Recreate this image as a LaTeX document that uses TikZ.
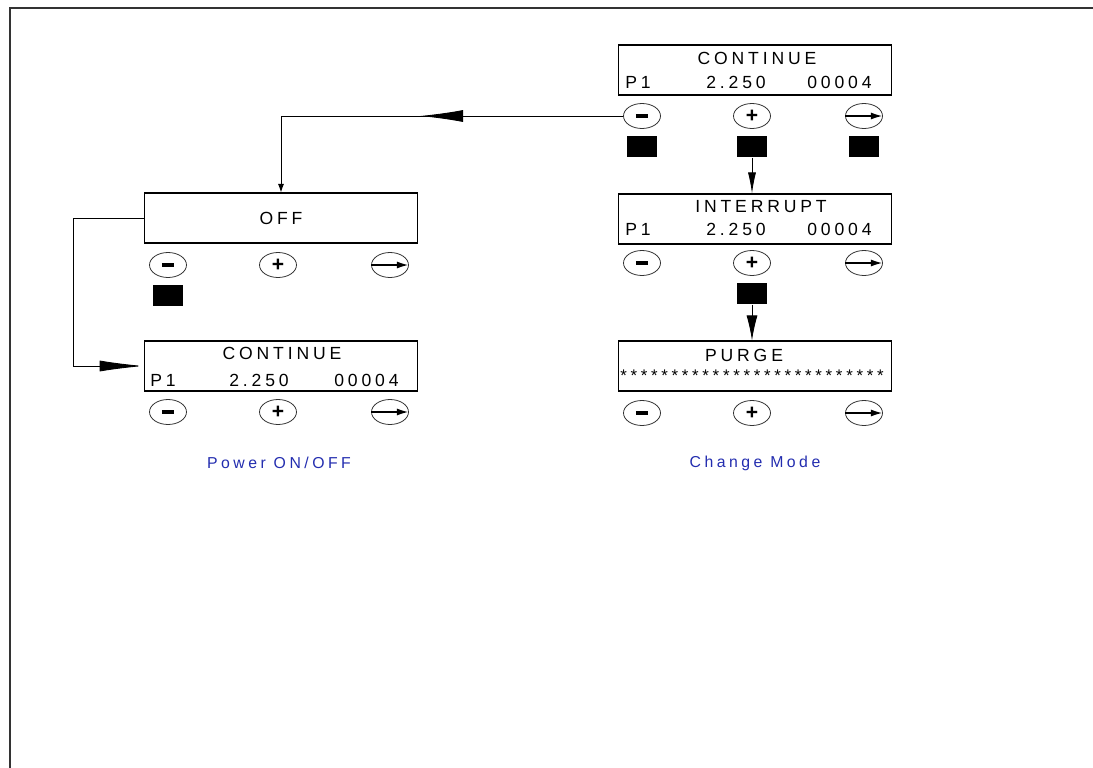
\documentclass[tikz,border=0pt]{standalone}
\usepackage{fontspec}
\setmainfont{Liberation Sans}
\newfontfamily\lcdfont[LetterSpace=22]{Liberation Sans}
\usetikzlibrary{shapes.geometric,arrows.meta,positioning,decorations.markings}
\definecolor{labelblue}{RGB}{35,45,175}

\begin{document}
\begin{tikzpicture}[
    x=0.02cm, y=-0.02cm,
    panel/.style={rectangle, draw, line width=0.9pt, minimum width=5.46cm, minimum height=0.99cm, inner sep=0},
    txt/.style={font=\lcdfont\fontsize{10}{12}\selectfont, inner sep=0},
    stars/.style={font=\lcdfont\fontsize{9.6}{10}\selectfont, inner sep=0},
    key/.style={ellipse, draw=black!80, line width=0.45pt, minimum width=0.74cm, minimum height=0.5cm, inner sep=0},
    pressed/.style={rectangle, fill=black, minimum width=0.6cm, minimum height=0.43cm, inner sep=0},
    caption/.style={font=\lcdfont\fontsize{9}{11}\selectfont, text=labelblue},
    line/.style={line width=0.5pt},
    longarrow/.style={line, -{Latex[length=0.88cm, width=0.22cm]}},
    arrow/.style={line, -{Latex[length=0.5cm, width=0.22cm]}}
]
    \useasboundingbox (0,0) rectangle (1093,768);
    \draw[line width=1.1pt, black!80] (10,768) -- (10,8) -- (1093,8);

    % display panels
    \node[panel] (cont) at (755,70) {};
    \node[panel] (intr) at (755,219) {};
    \node[panel] (purge) at (755,366) {};
    \node[panel] (off) at (281,218) {};
    \node[panel] (cont2) at (281,366) {};

    \node[txt] (contT) at (757,58) {CONTINUE};
    \node[txt, anchor=west] (contA) at (625,82) {P1};
    \node[txt] (contB) at (736,82) {2.250};
    \node[txt, anchor=east] (contC) at (872,82) {00004};

    \node[txt] (intrT) at (761,207) {INTERRUPT};
    \node[txt, anchor=west] (intrA) at (625,229) {P1};
    \node[txt] (intrB) at (736,229) {2.250};
    \node[txt, anchor=east] (intrC) at (872,229) {00004};

    \node[txt] (purgeT) at (744,355) {PURGE};
    \node[stars] (purgeS) at (752,376) {**************************};

    \node[txt] (offT) at (281,218) {OFF};

    \node[txt] (cont2T) at (282,353) {CONTINUE};
    \node[txt, anchor=west] (cont2A) at (150,380) {P1};
    \node[txt] (cont2B) at (259,380) {2.250};
    \node[txt, anchor=east] (cont2C) at (399,380) {00004};

    % keys under each panel
    \foreach \p/\x/\y in {cont/755/116, intr/755/263, purge/755/413, off/281/265, cont2/281/412} {
        \node[key] (\p M) at (\x-113,\y) {\rule{7pt}{2.2pt}};
        \node[key] (\p P) at (\x-3,\y) {\fontsize{12}{12}\selectfont\bfseries +};
        \node[key] (\p E) at (\x+109,\y) {};
        \draw[line width=1.1pt, -{Latex[length=0.24cm, width=0.14cm]}] (\p E.west) -- (\p E.east);
    }

    % pressed keys
    \node[pressed, below=0.13cm of contM] (contMsq) {};
    \node[pressed, below=0.13cm of contP] (contPsq) {};
    \node[pressed, below=0.13cm of contE] (contEsq) {};
    \node[pressed, below=0.13cm of intrP] (intrPsq) {};
    \node[pressed, below=0.13cm of offM] (offMsq) {};

    % transitions
    \draw[line, -{Latex[length=0.17cm, width=0.12cm]}, postaction={decorate},
        decoration={markings, mark=at position 0.485 with {\arrow{Latex[length=0.86cm, width=0.24cm]}}}]
        (contM.west) -- (off.north |- contM.west) -- (off.north);
    \draw[line, -{Latex[length=0.42cm, width=0.16cm]}] (contPsq.south) -- (contPsq.south |- intr.north);
    \draw[arrow] (intrPsq.south) -- (intrPsq.south |- purge.north);
    \draw[longarrow] (off.west) -- ++(-70,0) |- (cont2.west);

    \node[caption] (powerlbl) at (279,463) {Power ON/OFF};
    \node[caption] (modelbl) at (755,463) {Change Mode};
\end{tikzpicture}
\end{document}
